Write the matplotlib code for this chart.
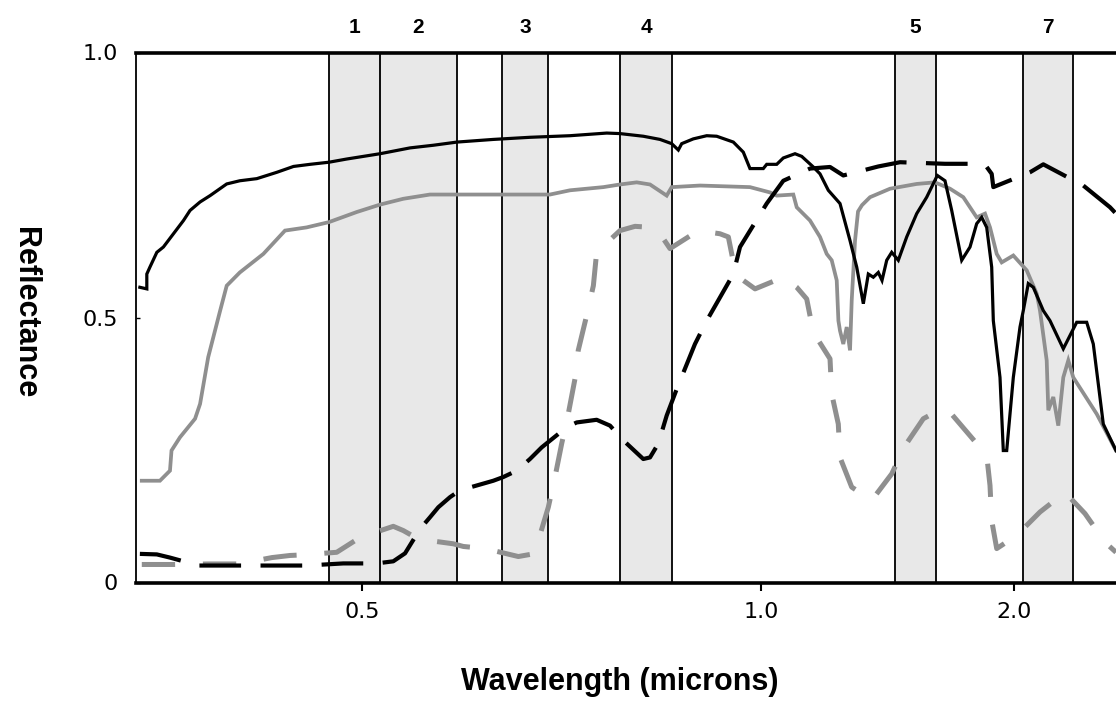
import numpy as np
import matplotlib
matplotlib.use("Agg")
import matplotlib.pyplot as plt
import matplotlib.transforms as mtransforms

plt.rcParams['lines.scale_dashes'] = False
plt.rcParams['font.family'] = ['DejaVu Sans']

# ---- axis definition (the chart's non-uniform wavelength axis) ----
AXIS_WL = [0.40, 0.45, 0.50, 0.52, 0.60, 0.63, 0.69, 0.76, 0.90, 1.00,
           1.55, 1.75, 2.00, 2.08, 2.35, 2.50]
AXIS_U = [0.0, 0.19694, 0.23061, 0.24898, 0.32755, 0.37347, 0.42041, 0.49388,
          0.54694, 0.63776, 0.77449, 0.81633, 0.89592, 0.90510, 0.95612, 1.0]

# ---- Landsat TM bands ----
band_names = ['1', '2', '3', '4', '5', '7']
band_lo = [0.45, 0.52, 0.63, 0.76, 1.55, 2.08]
band_hi = [0.52, 0.60, 0.69, 0.90, 1.75, 2.35]

xtick_vals = [0.5, 1.0, 2.0]
xtick_labels = ['0.5', '1.0', '2.0']
ytick_vals = [0, 0.5, 1.0]
ytick_labels = ['0', '0.5', '1.0']

# ---- curve 1: black solid ----
k_sol_wl = [0.4010, 0.4028, 0.4028, 0.4036, 0.4054, 0.4071, 0.4097, 0.4123, 0.4140, 0.4166,
            0.4192, 0.4235, 0.4269, 0.4313, 0.4365, 0.4408, 0.4451, 0.4500, 0.4768, 0.5200,
            0.5512, 0.5754, 0.6000, 0.6242, 0.6665, 0.7114, 0.7471, 0.7600, 0.8227, 0.8677,
            0.8992, 0.9071, 0.9109, 0.9239, 0.9390, 0.9502, 0.9689, 0.9801, 0.9876, 1.0094,
            1.0234, 1.0645, 1.0915, 1.1396, 1.1671, 1.2147, 1.2422, 1.2763, 1.3243, 1.3654,
            1.3929, 1.4200, 1.4405, 1.4610, 1.4815, 1.4967, 1.5160, 1.5365, 1.5661, 1.6071,
            1.6559, 1.7046, 1.7542, 1.7788, 1.8003, 1.8324, 1.8590, 1.8804, 1.8965, 1.9125,
            1.9285, 1.9337, 1.9551, 1.9657, 1.9766, 1.9978, 2.0533, 2.0816, 2.1086, 2.1356,
            2.1896, 2.2258, 2.2976, 2.3629, 2.3978, 2.4208, 2.4557, 2.5000]
k_sol_r = [0.557, 0.554, 0.582, 0.595, 0.623, 0.633, 0.658, 0.683, 0.702, 0.718,
           0.730, 0.752, 0.758, 0.762, 0.774, 0.785, 0.789, 0.793, 0.799, 0.809,
           0.820, 0.825, 0.831, 0.836, 0.840, 0.843, 0.848, 0.847, 0.842, 0.836,
           0.828, 0.816, 0.828, 0.837, 0.843, 0.842, 0.831, 0.812, 0.781, 0.781,
           0.789, 0.789, 0.801, 0.809, 0.804, 0.784, 0.771, 0.740, 0.715, 0.645,
           0.595, 0.526, 0.582, 0.576, 0.585, 0.570, 0.608, 0.623, 0.608, 0.652,
           0.696, 0.727, 0.768, 0.758, 0.702, 0.608, 0.633, 0.677, 0.689, 0.670,
           0.595, 0.494, 0.387, 0.249, 0.249, 0.387, 0.482, 0.513, 0.564, 0.557,
           0.513, 0.494, 0.441, 0.491, 0.491, 0.450, 0.299, 0.249]

# ---- curve 2: black dashed ----
k_dash_wl = [0.4010, 0.4054, 0.4088, 0.4123, 0.4157, 0.4244, 0.4442, 0.4717, 0.5163, 0.5338,
             0.5460, 0.5616, 0.5719, 0.5806, 0.5927, 0.6020, 0.6242, 0.6317, 0.6492, 0.6665,
             0.6818, 0.7082, 0.7179, 0.7373, 0.7503, 0.7646, 0.8227, 0.8408, 0.8631, 0.8857,
             0.9053, 0.9258, 0.9390, 0.9689, 0.9764, 1.0234, 1.0915, 1.2011, 1.2833, 1.3379,
             1.4815, 1.5744, 1.7788, 1.8590, 1.9125, 1.9285, 1.9337, 2.1178, 2.1896, 2.3859,
             2.4791, 2.5000]
k_dash_r = [0.054, 0.053, 0.047, 0.040, 0.032, 0.032, 0.032, 0.036, 0.036, 0.040,
            0.055, 0.101, 0.123, 0.142, 0.161, 0.174, 0.192, 0.199, 0.211, 0.233,
            0.255, 0.293, 0.302, 0.307, 0.296, 0.271, 0.233, 0.236, 0.262, 0.315,
            0.365, 0.450, 0.494, 0.582, 0.633, 0.715, 0.758, 0.781, 0.784, 0.768,
            0.785, 0.793, 0.790, 0.790, 0.784, 0.771, 0.746, 0.774, 0.789, 0.749,
            0.708, 0.696]

# ---- curve 3: gray solid ----
g_sol_wl = [0.4015, 0.4062, 0.4088, 0.4092, 0.4114, 0.4153, 0.4166, 0.4187, 0.4218, 0.4235,
            0.4269, 0.4330, 0.4386, 0.4442, 0.4500, 0.4920, 0.5200, 0.5442, 0.5719, 0.6000,
            0.6317, 0.6919, 0.7114, 0.7438, 0.7600, 0.8050, 0.8408, 0.8857, 0.8992, 0.9315,
            0.9876, 1.0369, 1.0645, 1.1326, 1.1466, 1.2011, 1.2422, 1.2697, 1.2902, 1.3108,
            1.3177, 1.3243, 1.3378, 1.3518, 1.3654, 1.3723, 1.3859, 1.3982, 1.4146, 1.4475,
            1.5296, 1.6559, 1.7451, 1.7949, 1.8375, 1.8804, 1.9071, 1.9231, 1.9446, 1.9606,
            1.9978, 2.1000, 2.1540, 2.1718, 2.2080, 2.2166, 2.2436, 2.2706, 2.2976, 2.3246,
            2.3510, 2.4327, 2.5000]
g_sol_r = [0.192, 0.192, 0.211, 0.249, 0.274, 0.309, 0.337, 0.425, 0.513, 0.560,
           0.585, 0.620, 0.664, 0.670, 0.680, 0.699, 0.713, 0.724, 0.732, 0.732,
           0.732, 0.732, 0.740, 0.746, 0.751, 0.755, 0.751, 0.730, 0.746, 0.749,
           0.746, 0.736, 0.730, 0.732, 0.708, 0.683, 0.652, 0.620, 0.608, 0.570,
           0.494, 0.475, 0.450, 0.482, 0.438, 0.532, 0.645, 0.700, 0.712, 0.727,
           0.743, 0.752, 0.755, 0.743, 0.727, 0.689, 0.696, 0.670, 0.620, 0.604,
           0.617, 0.589, 0.545, 0.513, 0.419, 0.325, 0.350, 0.296, 0.387, 0.419,
           0.387, 0.318, 0.249]

# ---- curve 4: gray dashed ----
g_dash_wl = [0.4015, 0.4097, 0.4187, 0.4265, 0.4352, 0.4399, 0.4429, 0.4617, 0.4970, 0.5338,
             0.5442, 0.5598, 0.5962, 0.6042, 0.6187, 0.6513, 0.6708, 0.6773, 0.6903, 0.6968,
             0.7033, 0.7097, 0.7162, 0.7194, 0.7276, 0.7341, 0.7373, 0.7600, 0.8004, 0.8453,
             0.8677, 0.8946, 0.9296, 0.9539, 0.9633, 0.9708, 0.9801, 0.9933, 1.0915, 1.1466,
             1.1876, 1.2147, 1.2833, 1.2902, 1.3173, 1.3243, 1.3723, 1.4544, 1.5365, 1.5988,
             1.6880, 1.7451, 1.7894, 1.8590, 1.9125, 1.9231, 1.9285, 1.9446, 2.0240, 2.1718,
             2.3068, 2.3919, 2.4616, 2.5000]
g_dash_r = [0.034, 0.034, 0.035, 0.035, 0.047, 0.051, 0.052, 0.057, 0.085, 0.106,
            0.098, 0.082, 0.073, 0.068, 0.064, 0.049, 0.054, 0.079, 0.142, 0.199,
            0.262, 0.318, 0.384, 0.438, 0.504, 0.560, 0.623, 0.664, 0.672, 0.670,
            0.658, 0.630, 0.664, 0.658, 0.652, 0.589, 0.570, 0.554, 0.576, 0.557,
            0.535, 0.472, 0.422, 0.356, 0.299, 0.236, 0.180, 0.155, 0.205, 0.258,
            0.309, 0.321, 0.325, 0.277, 0.240, 0.183, 0.117, 0.064, 0.089, 0.133,
            0.170, 0.130, 0.076, 0.057]

BLACK = '#000000'
GRAY = '#8f8f8f'
BAND_FILL = '#e8e8e8'


def fwd(x):
    return np.interp(np.asarray(x, dtype=float), AXIS_WL, AXIS_U)


def inv(u):
    return np.interp(np.asarray(u, dtype=float), AXIS_U, AXIS_WL)


fig = plt.figure(figsize=(11.16, 7.02), dpi=100)
ax = fig.add_axes([136 / 1116, (702 - 582.5) / 702, (1116 - 136) / 1116, 530 / 702])
ax.set_xscale('function', functions=(fwd, inv))
ax.set_xlim(AXIS_WL[0], AXIS_WL[-1])
ax.set_ylim(0, 1.0)

for lo, hi in zip(band_lo, band_hi):
    ax.axvspan(lo, hi, color=BAND_FILL, zorder=0, lw=0)
    for e in (lo, hi):
        ax.axvline(e, color='#111111', lw=1.4, zorder=1)

ax.plot(g_sol_wl, g_sol_r, color=GRAY, lw=2.7, zorder=3, solid_joinstyle='miter')
ax.plot(g_dash_wl, g_dash_r, color=GRAY, lw=3.6, zorder=3, dashes=(24, 20))
ax.plot(k_dash_wl, k_dash_r, color=BLACK, lw=3.0, zorder=4, dashes=(30, 14))
ax.plot(k_sol_wl, k_sol_r, color=BLACK, lw=2.3, zorder=5, solid_joinstyle='miter')

# band numbers above the plot
trans = mtransforms.blended_transform_factory(ax.transData, ax.transAxes)
for name, lo, hi in zip(band_names, band_lo, band_hi):
    mid = float(inv((fwd(lo) + fwd(hi)) / 2))
    ax.text(mid, 1.048, name, transform=trans, ha='center', va='center',
            fontsize=15, fontweight='bold', family='Liberation Sans')

ax.set_xticks(xtick_vals)
ax.set_xticklabels(xtick_labels)
ax.set_yticks(ytick_vals)
ax.set_yticklabels(ytick_labels)
ax.xaxis.set_minor_locator(matplotlib.ticker.NullLocator())
ax.tick_params(axis='x', direction='out', length=6, width=1.5, pad=8,
               labelsize=16, colors='black')
ax.tick_params(axis='y', direction='in', length=3, width=1, pad=13,
               labelsize=16, colors='black')

ax.spines['right'].set_visible(False)
ax.spines['top'].set_linewidth(2.6)
ax.spines['bottom'].set_linewidth(2.6)
ax.spines['left'].set_linewidth(1.3)

ax.set_xlabel('Wavelength (microns)', fontsize=22, fontweight='bold',
              family='Liberation Sans')
ax.xaxis.set_label_coords(0.494, -0.188)
ax.xaxis.label.set_va('center')
ax.set_ylabel('Reflectance', fontsize=22, fontweight='bold', rotation=270,
              family='Liberation Sans')
ax.yaxis.set_label_coords(-0.113, 0.51)
ax.yaxis.label.set_va('center')
ax.yaxis.label.set_ha('center')

fig.savefig('out.png', dpi=100)
